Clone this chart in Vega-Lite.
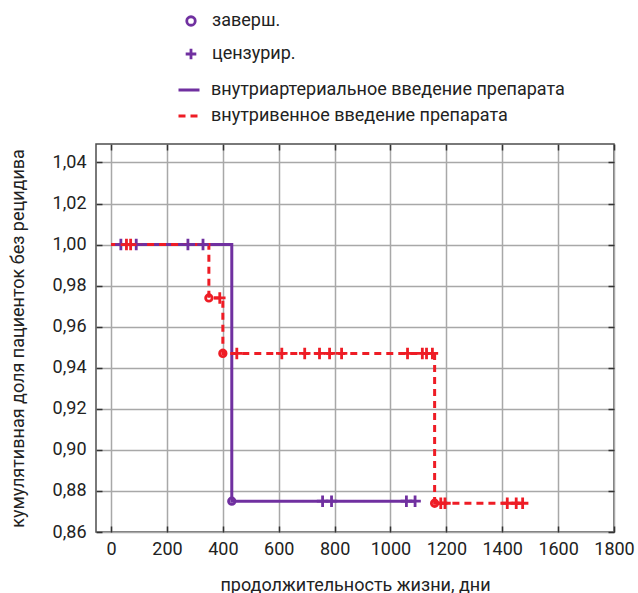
{
  "$schema": "https://vega.github.io/schema/vega-lite/v6.json",
  "width": 518,
  "height": 388,
  "autosize": {"type": "none"},
  "padding": {"left": 96, "top": 144, "right": 24, "bottom": 61},
  "background": "white",
  "config": {
    "locale": {"number": {"decimal": ",", "thousands": "", "grouping": [3], "currency": ["", ""]}},
    "font": "Roboto",
    "view": {"stroke": "#4d4d4d", "strokeWidth": 1.5},
    "axis": {
      "labelFont": "Roboto", "labelFontSize": 18, "labelColor": "#222",
      "titleFont": "Roboto", "titleFontSize": 18, "titleFontWeight": "normal", "titleColor": "#222",
      "gridColor": "#a8a8a8", "gridWidth": 1.5, "gridOpacity": 1,
      "domain": false, "tickColor": "#333", "tickWidth": 1.5, "tickSize": -6,
      "labelOverlap": false, "labelBound": false, "labelFlush": false
    },
    "legend": {"labelFont": "Roboto", "labelFontSize": 18, "labelColor": "#222", "padding": 0, "labelLimit": 0}
  },
  "datasets": {
    "lines": [
      {"g": "внутриартериальное введение препарата", "t": 0, "s": 1},
      {"g": "внутриартериальное введение препарата", "t": 432, "s": 0.875},
      {"g": "внутриартериальное введение препарата", "t": 1088, "s": 0.875},
      {"g": "внутривенное введение препарата", "t": 0, "s": 1},
      {"g": "внутривенное введение препарата", "t": 350, "s": 0.974},
      {"g": "внутривенное введение препарата", "t": 400, "s": 0.947},
      {"g": "внутривенное введение препарата", "t": 1158, "s": 0.874},
      {"g": "внутривенное введение препарата", "t": 1473, "s": 0.874}
    ],
    "censored": [
      {"g": "внутриартериальное введение препарата", "k": "цензурир.", "t": 35, "s": 1},
      {"g": "внутриартериальное введение препарата", "k": "цензурир.", "t": 90, "s": 1},
      {"g": "внутриартериальное введение препарата", "k": "цензурир.", "t": 275, "s": 1},
      {"g": "внутриартериальное введение препарата", "k": "цензурир.", "t": 329, "s": 1},
      {"g": "внутриартериальное введение препарата", "k": "цензурир.", "t": 757, "s": 0.875},
      {"g": "внутриартериальное введение препарата", "k": "цензурир.", "t": 789, "s": 0.875},
      {"g": "внутриартериальное введение препарата", "k": "цензурир.", "t": 1057, "s": 0.875},
      {"g": "внутриартериальное введение препарата", "k": "цензурир.", "t": 1088, "s": 0.875},
      {"g": "внутривенное введение препарата", "k": "цензурир.", "t": 55, "s": 1},
      {"g": "внутривенное введение препарата", "k": "цензурир.", "t": 70, "s": 1},
      {"g": "внутривенное введение препарата", "k": "цензурир.", "t": 389, "s": 0.974},
      {"g": "внутривенное введение препарата", "k": "цензурир.", "t": 450, "s": 0.947},
      {"g": "внутривенное введение препарата", "k": "цензурир.", "t": 611, "s": 0.947},
      {"g": "внутривенное введение препарата", "k": "цензурир.", "t": 693, "s": 0.947},
      {"g": "внутривенное введение препарата", "k": "цензурир.", "t": 746, "s": 0.947},
      {"g": "внутривенное введение препарата", "k": "цензурир.", "t": 782, "s": 0.947},
      {"g": "внутривенное введение препарата", "k": "цензурир.", "t": 825, "s": 0.947},
      {"g": "внутривенное введение препарата", "k": "цензурир.", "t": 1061, "s": 0.947},
      {"g": "внутривенное введение препарата", "k": "цензурир.", "t": 1114, "s": 0.947},
      {"g": "внутривенное введение препарата", "k": "цензурир.", "t": 1129, "s": 0.947},
      {"g": "внутривенное введение препарата", "k": "цензурир.", "t": 1150, "s": 0.947},
      {"g": "внутривенное введение препарата", "k": "цензурир.", "t": 1180, "s": 0.874},
      {"g": "внутривенное введение препарата", "k": "цензурир.", "t": 1195, "s": 0.874},
      {"g": "внутривенное введение препарата", "k": "цензурир.", "t": 1418, "s": 0.874},
      {"g": "внутривенное введение препарата", "k": "цензурир.", "t": 1450, "s": 0.874},
      {"g": "внутривенное введение препарата", "k": "цензурир.", "t": 1473, "s": 0.874}
    ],
    "events": [
      {"g": "внутриартериальное введение препарата", "k": "заверш.", "t": 432, "s": 0.875},
      {"g": "внутривенное введение препарата", "k": "заверш.", "t": 350, "s": 0.974},
      {"g": "внутривенное введение препарата", "k": "заверш.", "t": 400, "s": 0.947},
      {"g": "внутривенное введение препарата", "k": "заверш.", "t": 1158, "s": 0.874}
    ]
  },
  "resolve": {"axis": {"x": "independent", "y": "independent"}},
  "layer": [
    {
      "data": {"name": "lines"},
      "mark": {"type": "line", "interpolate": "step-after", "strokeWidth": 3},
      "encoding": {
        "x": {"field": "t", "type": "quantitative",
          "scale": {"domain": [-54, 1800], "nice": false, "zero": false},
          "axis": {"orient": "bottom", "values": [0, 200, 400, 600, 800, 1000, 1200, 1400, 1600, 1800], "format": "d", "title": "продолжительность жизни, дни", "labelPadding": 14, "titlePadding": 18}},
        "y": {"field": "s", "type": "quantitative",
          "scale": {"domain": [0.86, 1.049], "nice": false, "zero": false},
          "axis": {"orient": "left", "values": [0.86, 0.88, 0.9, 0.92, 0.94, 0.96, 0.98, 1, 1.02, 1.04], "format": ".2f", "title": "кумулятивная доля пациенток без рецидива", "labelPadding": 16, "titlePadding": 25}},
        "color": {"field": "g", "type": "nominal",
          "scale": {"domain": ["внутриартериальное введение препарата", "внутривенное введение препарата"], "range": ["#7030a0", "#ee1c25"]},
          "legend": {"title": null, "orient": "none", "legendX": 81, "legendY": -66, "symbolType": "stroke", "symbolSize": 441, "symbolStrokeWidth": 3, "labelOffset": 10, "rowPadding": 5}},
        "strokeDash": {"field": "g", "type": "nominal",
          "scale": {"domain": ["внутриартериальное введение препарата", "внутривенное введение препарата"], "range": [[1, 0], [7, 5]]},
          "legend": {"title": null, "orient": "none", "legendX": 81, "legendY": -66, "symbolType": "stroke", "symbolSize": 441, "symbolStrokeWidth": 3, "labelOffset": 10, "rowPadding": 5}}
      }
    },
    {
      "data": {"name": "censored"},
      "mark": {"type": "point", "filled": false, "size": 85, "strokeWidth": 2.8, "opacity": 1},
      "encoding": {
        "x": {"field": "t", "type": "quantitative",
          "axis": {"orient": "top", "values": [0, 200, 400, 600, 800, 1000, 1200, 1400, 1600, 1800], "labels": false, "grid": false, "title": null}},
        "y": {"field": "s", "type": "quantitative",
          "axis": {"orient": "right", "values": [0.86, 0.88, 0.9, 0.92, 0.94, 0.96, 0.98, 1, 1.02, 1.04], "labels": false, "grid": false, "title": null}},
        "stroke": {"field": "g", "type": "nominal",
          "scale": {"domain": ["внутриартериальное введение препарата", "внутривенное введение препарата"], "range": ["#7030a0", "#ee1c25"]},
          "legend": null},
        "shape": {"field": "k", "type": "nominal",
          "scale": {"domain": ["заверш.", "цензурир."], "range": ["circle", "M-1.25,0H1.25M0,-1.25V1.25"]},
          "legend": {"title": null, "orient": "none", "legendX": 86, "legendY": -132, "symbolSize": 72, "symbolStrokeColor": "#7030a0", "symbolFillColor": "transparent", "symbolStrokeWidth": 2.8, "labelOffset": 12, "rowPadding": 12}}
      }
    },
    {
      "data": {"name": "events"},
      "mark": {"type": "point", "filled": false, "size": 42, "strokeWidth": 2.8, "opacity": 1},
      "encoding": {
        "x": {"field": "t", "type": "quantitative", "axis": null},
        "y": {"field": "s", "type": "quantitative", "axis": null},
        "stroke": {"field": "g", "type": "nominal",
          "scale": {"domain": ["внутриартериальное введение препарата", "внутривенное введение препарата"], "range": ["#7030a0", "#ee1c25"]},
          "legend": null},
        "shape": {"field": "k", "type": "nominal",
          "scale": {"domain": ["заверш.", "цензурир."], "range": ["circle", "M-1.25,0H1.25M0,-1.25V1.25"]},
          "legend": {"title": null, "orient": "none", "legendX": 86, "legendY": -132, "symbolSize": 72, "symbolStrokeColor": "#7030a0", "symbolFillColor": "transparent", "symbolStrokeWidth": 2.8, "labelOffset": 12, "rowPadding": 12}}
      }
    }
  ]
}
